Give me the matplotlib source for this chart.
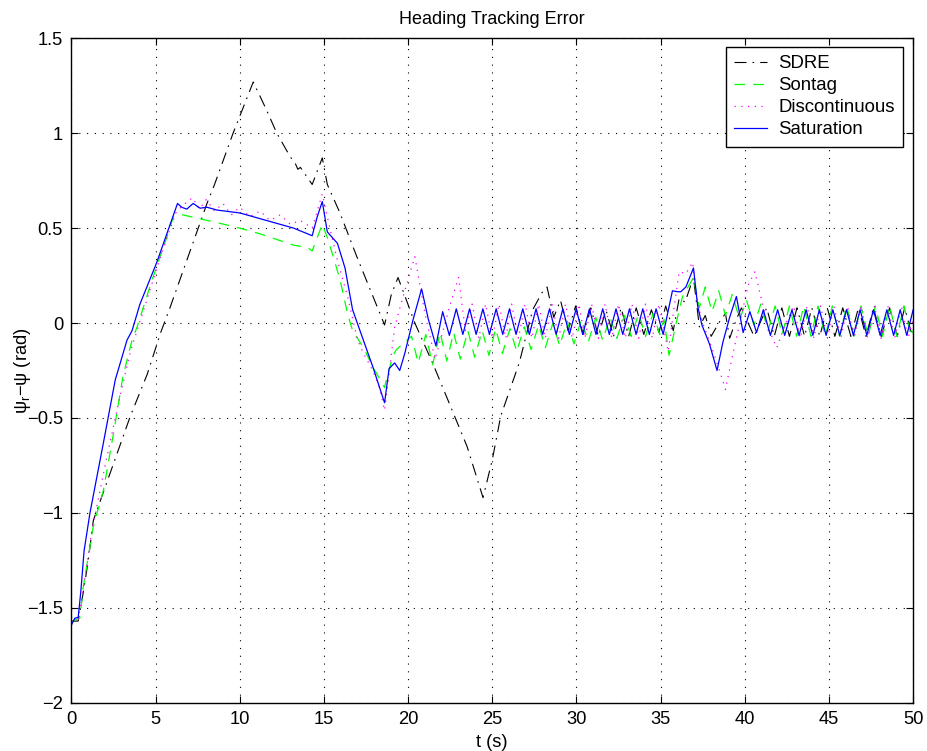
import matplotlib
matplotlib.use("Agg")
import matplotlib.pyplot as plt

# ---------------- data, (t, value) pairs ----------------
sdre_pts = [
    (0, -1.57), (0.4, -1.57), (0.7, -1.42), (1.0, -1.25), (1.3, -1.04), (2.3, -0.79),
    (3.5, -0.49), (4.5, -0.27), (5.3, -0.05), (5.85, 0.08), (8.05, 0.63), (8.5, 0.73),
    (9.6, 1.00), (10.8, 1.27), (11.6, 1.12), (12.2, 1.00), (13.0, 0.875), (13.3, 0.84),
    (13.45, 0.81), (13.6, 0.82), (14.3, 0.73), (14.9, 0.87), (15.2, 0.73), (15.95, 0.58),
    (16.95, 0.35), (18.6, -0.01), (19.0, 0.15), (19.4, 0.24), (20.4, 0.00), (21.5, -0.22),
    (23.5, -0.65), (24.45, -0.92), (25.0, -0.72), (25.5, -0.49), (26.6, -0.21), (27.4, 0.07),
    (27.95, 0.16), (28.25, 0.19), (28.65, 0.03), (29.05, 0.12), (29.5, -0.04), (29.95, 0.09),
    (30.4, -0.06), (30.85, 0.08), (31.3, -0.07), (31.75, 0.07), (32.2, -0.07), (32.65, 0.08),
    (33.1, -0.07), (33.55, 0.08), (34.0, -0.06), (34.45, 0.07), (34.9, -0.05), (35.3, 0.09),
    (35.75, -0.04), (36.1, 0.13), (36.45, 0.11), (36.95, 0.24), (37.3, -0.02), (37.65, 0.04),
    (38.0, -0.07), (38.45, 0.00), (38.85, 0.05), (39.1, -0.08), (39.5, 0.02), (39.8, 0.08),
    (40.55, -0.07), (41.3, 0.08), (41.75, -0.07), (42.2, 0.08), (42.65, -0.07), (43.1, 0.08),
    (43.55, -0.07), (43.98, 0.08), (44.45, -0.07), (44.9, 0.08), (45.35, -0.07), (45.82, 0.08),
    (46.3, -0.07), (46.75, 0.08), (47.2, -0.07), (47.64, 0.08), (48.1, -0.07), (48.6, 0.08),
    (49.05, -0.07), (49.5, 0.08), (49.95, -0.07), (50.0, -0.06),
]

sontag_pts = [
    (0, -1.57), (0.5, -1.555), (0.7, -1.39), (1.3, -1.07), (1.9, -0.88), (2.5, -0.58),
    (3.06, -0.28), (3.6, -0.09), (3.9, -0.02), (4.8, 0.23), (5.66, 0.45), (6.05, 0.56),
    (6.6, 0.57), (7.6, 0.55), (8.6, 0.53), (10.0, 0.50), (11.2, 0.47), (12.2, 0.44),
    (13.2, 0.41), (14.0, 0.40), (14.3, 0.38), (14.6, 0.45), (14.9, 0.52), (15.2, 0.45),
    (15.55, 0.35), (15.95, 0.23), (16.4, 0.05), (16.7, -0.04), (17.35, -0.13), (17.9, -0.23),
    (18.6, -0.34), (18.7, -0.30), (19.1, -0.17), (19.3, -0.14), (19.8, -0.10), (20.2, -0.07),
    (20.6, -0.21), (21.05, -0.06), (21.45, -0.22), (21.9, -0.05), (22.3, -0.20), (22.7, -0.05),
    (23.1, -0.19), (23.55, -0.04), (23.95, -0.18), (24.4, -0.04), (24.8, -0.17), (25.2, -0.03),
    (25.6, -0.16), (26.05, -0.03), (26.45, -0.15), (26.9, -0.02), (27.3, -0.14), (27.75, -0.01),
    (28.15, -0.13), (28.6, 0.00), (29.0, -0.12), (29.45, 0.01), (29.85, -0.11), (30.3, 0.02),
    (30.7, -0.10), (31.15, 0.03), (31.55, -0.09), (32.0, 0.03), (32.4, -0.08), (32.85, 0.04),
    (33.25, -0.07), (33.7, 0.05), (34.1, -0.07), (34.55, 0.05), (34.95, -0.06), (35.2, 0.02),
    (35.5, -0.17), (36.0, 0.03), (36.3, 0.14), (36.95, 0.24), (37.3, 0.08), (37.65, 0.19),
    (38.05, 0.06), (38.45, 0.17), (38.85, 0.04), (39.25, 0.15), (39.7, 0.02), (40.1, 0.12),
    (40.55, -0.01), (40.95, 0.10), (41.38, -0.04), (41.8, 0.09), (42.22, -0.06), (42.65, 0.09),
    (43.08, -0.07), (43.5, 0.09), (43.93, -0.07), (44.35, 0.09), (44.78, -0.07), (45.2, 0.09),
    (45.63, -0.07), (46.05, 0.09), (46.48, -0.07), (46.9, 0.09), (47.33, -0.07), (47.75, 0.09),
    (48.18, -0.07), (48.6, 0.09), (49.03, -0.07), (49.45, 0.09), (49.88, -0.07), (50.0, -0.04),
]

discont_pts = [
    (0, -1.57), (0.4, -1.56), (0.7, -1.40), (1.2, -1.10), (2.0, -0.75), (2.8, -0.42),
    (3.5, -0.15), (4.4, 0.10), (5.4, 0.38), (6.2, 0.58), (6.6, 0.62), (7.2, 0.66),
    (7.6, 0.60), (8.0, 0.65), (8.5, 0.59), (9.0, 0.63), (9.5, 0.57), (10.0, 0.61),
    (10.6, 0.56), (11.2, 0.59), (11.8, 0.54), (12.4, 0.57), (13.0, 0.52), (13.6, 0.54),
    (14.3, 0.50), (14.9, 0.68), (15.3, 0.52), (15.8, 0.33), (16.4, 0.14), (17.0, -0.09),
    (17.35, -0.16), (17.9, -0.25), (18.3, -0.34), (18.6, -0.46), (19.2, -0.02), (19.7, 0.14),
    (20.4, 0.35), (21.0, 0.05), (21.6, -0.19), (22.2, 0.00), (22.5, 0.10), (23.0, 0.24),
    (23.4, -0.04), (23.8, 0.10), (24.2, -0.08), (24.6, 0.10), (25.0, -0.08), (25.4, 0.10),
    (25.8, -0.08), (26.15, 0.10), (26.55, -0.08), (26.95, 0.10), (27.35, -0.08), (27.75, 0.10),
    (28.15, -0.08), (28.55, 0.10), (28.95, -0.08), (29.35, 0.10), (29.75, -0.08), (30.15, 0.10),
    (30.5, -0.08), (30.9, 0.10), (31.3, -0.08), (31.7, 0.10), (32.1, -0.08), (32.5, 0.10),
    (32.9, -0.08), (33.3, 0.10), (33.7, -0.08), (34.1, 0.10), (34.5, -0.08), (34.9, 0.10),
    (35.45, -0.15), (35.75, 0.05), (36.1, 0.27), (36.5, 0.26), (36.9, 0.32), (37.2, 0.10),
    (37.5, 0.00), (38.0, -0.12), (38.5, -0.25), (38.85, -0.35), (39.2, -0.20), (39.7, 0.00),
    (40.2, 0.20), (40.6, 0.27), (41.0, 0.12), (41.4, -0.03), (41.9, -0.13), (42.35, -0.02),
    (42.9, 0.09), (43.3, -0.08), (43.7, 0.09), (44.1, -0.08), (44.5, 0.09), (44.9, -0.08),
    (45.3, 0.09), (45.7, -0.08), (46.1, 0.09), (46.5, -0.08), (46.9, 0.09), (47.3, -0.08),
    (47.7, 0.09), (48.1, -0.08), (48.5, 0.09), (48.9, -0.08), (49.3, 0.09), (49.7, -0.08),
    (50.0, 0.02),
]

saturation_pts = [
    (0, -1.59), (0.2, -1.555), (0.4, -1.55), (0.55, -1.42), (0.75, -1.20), (1.1, -1.00),
    (1.9, -0.63), (2.6, -0.30), (3.3, -0.09), (3.6, -0.04), (4.07, 0.10), (5.07, 0.32),
    (6.3, 0.63), (6.55, 0.61), (6.85, 0.60), (7.23, 0.63), (7.64, 0.605), (8.05, 0.61),
    (8.66, 0.595), (10.0, 0.58), (11.6, 0.54), (13.2, 0.50), (14.3, 0.46), (14.6, 0.56),
    (14.9, 0.64), (15.2, 0.48), (15.8, 0.42), (16.25, 0.29), (16.7, 0.07), (17.1, -0.03),
    (17.9, -0.23), (18.6, -0.42), (18.87, -0.24), (19.2, -0.21), (19.5, -0.25), (19.8, -0.16),
    (20.3, 0.02), (20.8, 0.18), (21.2, 0.02), (21.65, -0.12), (22.05, 0.06), (22.45, -0.065),
    (22.86, 0.075), (23.25, -0.06), (23.65, 0.075), (24.04, -0.06), (24.44, 0.075), (24.83, -0.06),
    (25.23, 0.075), (25.62, -0.06), (26.02, 0.075), (26.41, -0.06), (26.81, 0.075), (27.2, -0.06),
    (27.6, 0.075), (27.99, -0.06), (28.4, 0.075), (28.79, -0.06), (29.19, 0.075), (29.58, -0.06),
    (29.98, 0.075), (30.37, -0.06), (30.77, 0.075), (31.16, -0.06), (31.56, 0.075), (31.95, -0.06),
    (32.35, 0.075), (32.75, -0.06), (33.15, 0.075), (33.54, -0.06), (33.94, 0.075), (34.33, -0.06),
    (34.73, 0.075), (35.15, -0.06), (35.7, 0.17), (36.0, 0.165), (36.2, 0.165), (36.5, 0.19),
    (36.95, 0.29), (37.2, 0.09), (37.45, -0.01), (37.9, -0.11), (38.35, -0.25), (38.7, -0.10),
    (39.1, 0.03), (39.5, 0.14), (39.9, -0.05), (40.3, 0.06), (40.7, -0.05), (41.1, 0.07),
    (41.52, -0.065), (41.95, 0.07), (42.37, -0.065), (42.8, 0.07), (43.22, -0.065), (43.64, 0.07),
    (44.04, -0.065), (44.43, 0.07), (44.83, -0.065), (45.23, 0.07), (45.64, -0.065), (46.04, 0.07),
    (46.45, -0.065), (46.85, 0.07), (47.25, -0.065), (47.64, 0.07), (48.04, -0.065), (48.44, 0.07),
    (48.84, -0.065), (49.23, 0.07), (49.62, -0.065), (50.0, 0.07),
]

labels = ["SDRE", "Sontag", "Discontinuous", "Saturation"]
x_ticks = [0, 5, 10, 15, 20, 25, 30, 35, 40, 45, 50]
y_ticks = [-2, -1.5, -1, -0.5, 0, 0.5, 1, 1.5]

# ---------------- figure ----------------
plt.rcParams['font.family'] = ['Liberation Sans', 'DejaVu Sans']
plt.rcParams['mathtext.fontset'] = 'custom'
plt.rcParams['mathtext.rm'] = 'Liberation Sans'
plt.rcParams['mathtext.it'] = 'Liberation Sans:italic'

FS = 13.2
fig = plt.figure(figsize=(9.28, 7.51), dpi=100)
ax = fig.add_axes([0.077, 0.0643, 0.907, 0.8847])

styles = [
    dict(color='black', lw=0.8, linestyle=(0, (10.8, 5.4, 1.5, 5.4))),
    dict(color='#00ff00', lw=0.9, linestyle=(0, (8.5, 6.5))),
    dict(color='#ff00ff', lw=0.9, linestyle=(0, (1, 4.4))),
    dict(color='#0000ff', lw=0.9, linestyle='-'),
]
for pts, lab, st in zip([sdre_pts, sontag_pts, discont_pts, saturation_pts], labels, styles):
    ts = [p[0] for p in pts]
    vs = [p[1] for p in pts]
    ax.plot(ts, vs, label=lab, **st)

ax.set_xlim(0, 50)
ax.set_ylim(-2, 1.5)
ax.set_xticks(x_ticks)
ax.set_yticks(y_ticks)
ax.set_xticklabels([f"{v:g}" for v in x_ticks])
ax.set_yticklabels([f"{v:g}".replace('-', '\u2212') for v in y_ticks])

ax.grid(True, color='black', linestyle=(0, (1, 6)), lw=0.8)
ax.tick_params(direction='in', top=True, right=True, length=5, width=0.8,
               labelsize=FS, pad=6)
for s in ax.spines.values():
    s.set_linewidth(1.0)

ax.set_title("Heading Tracking Error", fontsize=13, pad=10.5)
ax.set_xlabel("t (s)", fontsize=FS, labelpad=4)
ax.set_ylabel("\u03c8$_\\mathrm{r}$\u2212\u03c8 (rad)", fontsize=FS, labelpad=-4)

leg = ax.legend(loc='upper right', bbox_to_anchor=(0.988, 0.987), fontsize=13.4,
                frameon=True, fancybox=False, edgecolor='black', framealpha=1,
                handlelength=1.75, handletextpad=0.6, labelspacing=0.27,
                borderpad=0.45, borderaxespad=0)
leg.get_frame().set_linewidth(1.0)

fig.savefig("out.png", dpi=100)
